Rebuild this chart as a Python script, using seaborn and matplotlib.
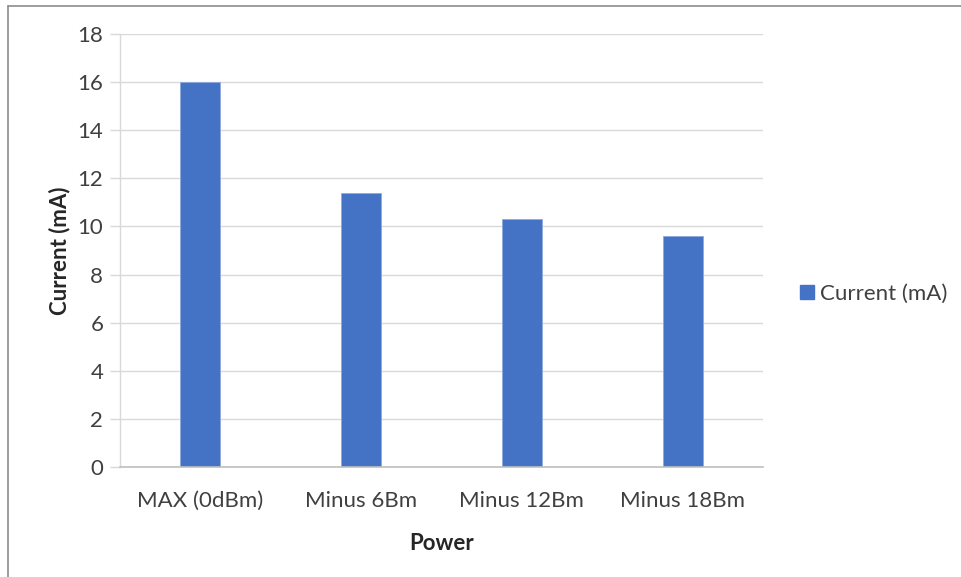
import matplotlib
matplotlib.use("Agg")
import matplotlib.pyplot as plt
from matplotlib.lines import Line2D
import pandas as pd
import seaborn as sns

categories = ["MAX (0dBm)", "Minus 6Bm", "Minus 12Bm", "Minus 18Bm"]
current_ma = [16.0, 11.4, 10.3, 9.6]
series_name = "Current (mA)"
y_ticks = [0, 2, 4, 6, 8, 10, 12, 14, 16, 18]

df = pd.DataFrame({"Power": categories, "Current": current_ma, "series": series_name})

sns.set_theme(style="white")
plt.rcParams["font.family"] = ["Lato", "DejaVu Sans"]

W, H = 961, 577
fig = plt.figure(figsize=(W / 100, H / 100), dpi=100)
ax = fig.add_axes([120 / W, 1 - 467 / H, (763 - 120) / W, (467 - 34) / H])

bar_color = "#4472C4"
sns.barplot(data=df, x="Power", y="Current", hue="series",
            palette=[bar_color], width=0.25, ax=ax, legend=False,
            edgecolor="#8faadc", linewidth=0.6, saturation=1)

ax.set_ylim(0, 18)
ax.set_yticks(y_ticks)
ax.set_xlim(-0.5, len(categories) - 0.5)

grid_c = "#d9d9d9"
ax.yaxis.grid(True, color=grid_c, linewidth=1)
ax.set_axisbelow(True)
for s in ["top", "right"]:
    ax.spines[s].set_visible(False)
ax.spines["left"].set_color(grid_c)
ax.spines["left"].set_linewidth(1)
ax.spines["bottom"].set_color("#bfbfbf")
ax.spines["bottom"].set_linewidth(1.2)

fs = 16
ax.tick_params(axis="y", length=7, width=1, color=grid_c, labelsize=fs,
               labelcolor="#404040", pad=5, left=True)
ax.tick_params(axis="x", length=0, labelsize=fs, labelcolor="#404040", pad=17)

ax.set_xlabel("Power", fontsize=fs, fontweight="bold", color="#262626", labelpad=16)
ax.set_ylabel("Current (mA)", fontsize=fs, fontweight="bold", color="#262626", labelpad=5)

handle = Line2D([], [], marker="s", linestyle="none", markersize=10,
                markerfacecolor=bar_color, markeredgecolor=bar_color)
fig.legend([handle], [series_name], loc="center left",
           bbox_to_anchor=(776 / W, 1 - 294 / H), frameon=False,
           fontsize=fs, handletextpad=0.1, labelcolor="#404040",
           handlelength=1.0)

# outer chart frame (top and left edges)
frame_c = "#8c8c8c"
fig.add_artist(Line2D([8 / W, 1], [1 - 6 / H, 1 - 6 / H], color=frame_c, lw=1.2,
                      transform=fig.transFigure))
fig.add_artist(Line2D([8 / W, 8 / W], [0, 1 - 6 / H], color=frame_c, lw=1.2,
                      transform=fig.transFigure))

fig.savefig("out.png", dpi=100, facecolor="white")
